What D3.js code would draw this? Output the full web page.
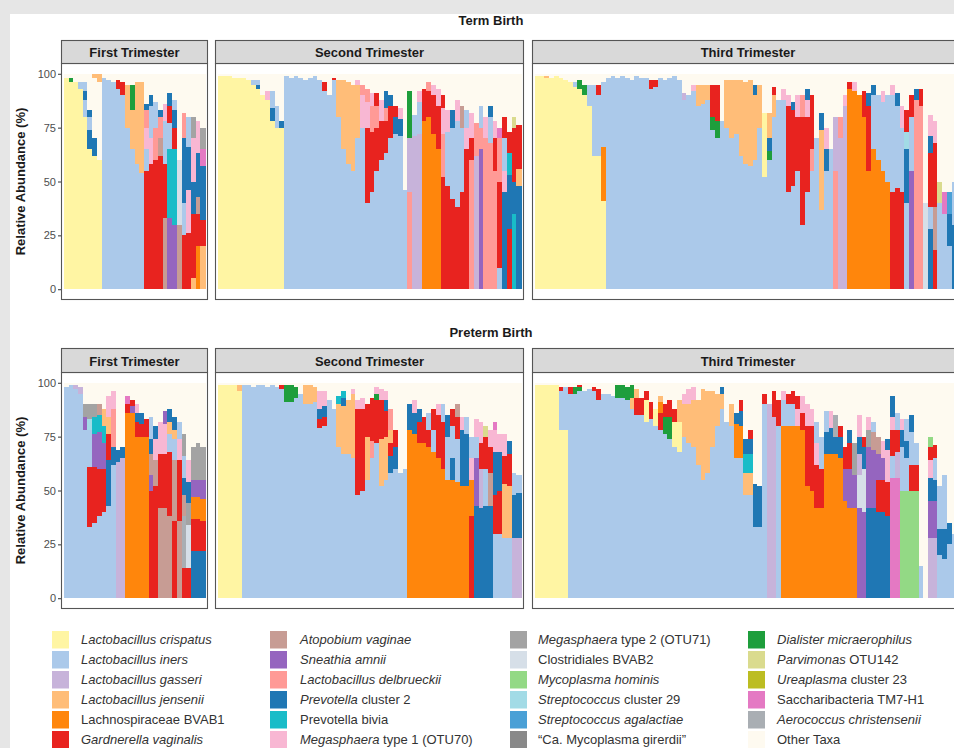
<!DOCTYPE html>
<html lang="en">
<head>
<meta charset="UTF-8">
<title>Vaginal microbiome composition by trimester</title>
<script src="https://d3js.org/d3.v7.min.js"></script>
<style>
  body { margin: 0; background: #e6e6e6; font-family: "Liberation Sans", Arial, sans-serif; }
  svg { display: block; }
</style>
</head>
<body>
<div id="chart"></div>
<script>
// taxa: code, legend label (*...* = italic), colour
const taxaCodes = "abcdefghijklmnopqrstuvwx".split("");
const taxaNames = [
  "*Lactobacillus crispatus*", "*Lactobacillus iners*", "*Lactobacillus gasseri*",
  "*Lactobacillus jensenii*", "Lachnospiraceae BVAB1", "*Gardnerella vaginalis*",
  "*Atopobium vaginae*", "*Sneathia amnii*", "*Lactobacillus delbrueckii*",
  "*Prevotella* cluster 2", "Prevotella bivia", "*Megasphaera* type 1 (OTU70)",
  "*Megasphaera* type 2 (OTU71)", "Clostridiales BVAB2", "*Mycoplasma hominis*",
  "*Streptococcus* cluster 29", "*Streptococcus agalactiae*", "\u201cCa. Mycoplasma girerdii\u201d",
  "*Dialister micraerophilus*", "*Parvimonas* OTU142", "*Ureaplasma* cluster 23",
  "Saccharibacteria TM7-H1", "*Aerococcus christensenii*", "Other Taxa"
];
const taxaColors = [
  "#fff5a3", "#abc9ea", "#c7b3da", "#ffbd78", "#ff860c", "#e8231f",
  "#c79c94", "#9565bf", "#ff9a96", "#1f77b4", "#19bcc8", "#f8b7d3",
  "#a3a3a3", "#d6dfe8", "#93d985", "#a2dbe6", "#4aa0d6", "#898989",
  "#1e9e3c", "#dadb8e", "#bcbd22", "#e479c3", "#a9aeb3", "#fefaf0"
];

const outcomes = ["Term Birth", "Preterm Birth"];
const trimesters = ["First Trimester", "Second Trimester", "Third Trimester"];
const yTicks = [0, 25, 50, 75, 100];

// one string per sample, segments bottom-up: taxon code + relative abundance (%)
const termFirst = [
  "a98 x2", "a96 s2 x2", "a96 x4", "a93 b3 x4", "a80 b8 j4 b4 x4", "a65 j9 b6 j3 x17",
  "a62 j8 x28 d2", "a60 x36 d4", "b98 x2", "b97 x3", "b96 x4", "b93 f4 x3", "b90 f6 x4",
  "b75 d20 x5", "b65 d18 s12 x5", "b58 d38 x4", "b54 d42 x4", "f55 b10 l10 i8 j3 x14",
  "f58 l12 b15 j5 x10", "f60 i15 b12 x13", "f62 g8 i10 j3 x17", "g33 f25 b20 l8 x14",
  "h33 k32 b12 f8 j6 x9", "h30 k35 f10 j8 b5 x12", "g30 n30 x40", "f25 b15 j30 i12 x18",
  "f26 l20 j20 b14 x20", "d5 f30 j15 l20 m10 x20", "e20 f15 g8 j20 l15 x22", "d20 f12 j25 v8 m10 x25"
];
const termSecond = [
  "a99 x1", "a99 x1", "a99 x1", "a98 x2", "a98 x2", "a98 x2", "a97 x3", "a95 b2 x3",
  "a93 j2 b2 x3", "a90 x10", "a88 l4 x8", "a78 j6 b8 x8", "a75 b10 x15", "a75 j3 x22",
  "b99 x1", "b98 x2", "b99 x1", "b98 x2", "b97 x3", "b98 x2", "b99 x1", "b97 x3",
  "b92 f4 x4", "b90 x10", "b97 f1 x2", "b80 d17 x3", "b65 d32 x3", "b58 d38 x4",
  "b55 d40 x5", "b70 d25 l2 x3", "b75 l15 i5 x5", "b40 f35 l12 i6 x7", "b45 f28 i12 l6 x9",
  "b55 f20 i10 f6 x9", "b60 f18 l10 x12", "b63 f15 i6 j8 x8", "b70 f15 j5 x10",
  "b72 j8 f5 x15", "b71 j8 l5 x16", "b46 x54", "i45 c25 s22 x8", "c71 b10 x19",
  "c72 b15 l5 x8", "e78 f15 x7", "e80 f12 i4 x4", "e72 f18 l5 x5", "e65 f20 l8 x7",
  "f52 i20 l12 f6 x10", "f48 b25 l10 x17", "f42 b33 j8 x17", "f38 b40 l10 x12",
  "f45 b30 g10 x15", "f65 l10 b8 x17", "i60 f10 l12 x18", "c62 i15 x23", "h65 i10 b10 x15",
  "i70 l10 x20", "i68 b12 j5 x15", "i55 f15 l8 x22", "b10 f40 i20 v5 x25",
  "j45 l10 b15 f10 x20", "f28 j25 k10 f10 x27", "k35 j15 f25 t5 x20", "j48 d8 f20 x24"
];
const termThird = [
  "a99 x1", "a99 x1", "a98 d1 x1", "a98 x2", "a99 x1", "a98 x2", "a97 x3", "a96 x4",
  "a94 b2 x4", "a93 s4 x3", "a90 s5 x5", "a85 b10 x5", "a62 b33 x5", "a62 b28 f5 x5",
  "a41 e25 b30 x4", "b98 x2", "b99 x1", "b98 x2", "b99 x1", "b98 x2", "b97 x3", "b99 x1",
  "b98 x2", "b98 x2", "b93 f4 x3", "b94 f3 x3", "b98 x2", "b97 x3", "b98 x2", "b99 x1",
  "b97 x3", "b88 c3 x9", "b90 x10", "b92 l3 x5", "b85 d10 x5", "b86 d9 x5", "b88 d7 x5",
  "b74 s6 f15 x5", "b70 s8 f17 x5", "b78 x22", "b75 d22 x3", "b70 d27 x3", "b72 d25 x3",
  "b62 d35 x3", "b58 d38 x4", "b57 d40 x3", "b60 d30 j5 x5", "b75 d20 x5", "b52 a30 x18",
  "b60 s4 j6 d12 x18", "b80 d10 f4 x6", "b88 x12", "b88 l5 x7", "b45 f40 l5 x10",
  "b48 f35 j4 x13", "b55 f25 l10 x10", "b30 f50 i10 x10", "b45 f35 l8 j5 x7",
  "b55 i10 f25 x10", "b70 x30", "b37 d37 j8 x18", "b55 j10 l10 x25", "b65 x35",
  "i55 c25 x20", "c70 i10 x20", "c85 l5 x10", "e93 f3 x4", "e92 l4 x4", "e90 x10",
  "e80 f12 x8", "e55 f30 j6 x9", "e65 b25 j5 x5", "e60 b30 x10", "e55 b32 l5 x8",
  "e50 b40 x10", "f45 b45 l5 x5", "f47 b38 j6 x9", "f45 b30 l10 x15", "b40 j25 p8 f10 x17",
  "h55 b25 f10 x10", "i88 j5 x7", "i85 f8 x7", "n40 x60", "j28 b10 f25 j8 l10 x19",
  "f18 g20 f30 l10 x22", "b40 t10 x50", "b35 v10 x55", "b20 j15 q10 x55", "j30 b20 x50", "b40 x60"
];
const pretermFirst = [
  "b98 x2", "b99 x1", "b97 c2 x1", "b95 c3 x2", "b78 h6 m6 x10", "b33 f28 b17 p5 m7 x10",
  "b35 f26 h15 k8 m6 x10", "b38 f22 h17 k8 g5 x10", "b40 f20 h12 k8 d8 x12",
  "b43 j21 f12 d8 l10 x6", "b62 j8 i18 l8 x4", "c63 j6 x31", "c65 j5 x30", "e86 f4 v4 x6",
  "e86 h3 f3 x8", "e75 f7 j4 l4 x10", "e75 f6 j5 x14", "e75 f8 x17", "f50 h7 g10 j7 b10 x16",
  "f52 g12 l10 j6 x20", "g42 f25 l15 x18", "g42 f25 l14 h6 x13", "g38 f30 b8 d6 j6 x12",
  "f36 g28 b10 d4 j6 x16", "g36 f28 l10 b8 x18", "f14 w24 g10 j8 b10 m10 x24",
  "f14 n20 m10 j10 l10 x36", "j22 f15 e10 h8 m15 x30", "j22 f15 e10 h8 m17 x28", "j22 f14 e10 h9 m15 x30"
];
const pretermSecond = [
  "a99 x1", "a99 x1", "a99 x1", "a99 x1", "a96 d3 x1", "b99 x1", "b99 x1", "b98 x2",
  "b99 x1", "b99 x1", "b98 x2", "b99 x1", "b98 x2", "b97 f2 x1", "b91 s8 x1", "b91 s8 x1",
  "b93 s5 x2", "b95 x5", "b90 d9 x1", "b90 d9 x1", "b91 d7 x2", "b79 f4 j5 l8 x4",
  "b80 f4 j5 l7 x4", "b92 x8", "b88 x12", "b70 d20 k4 x6", "b67 d22 j4 k3 x4", "b67 d25 x8",
  "b65 d30 l2 x3", "b48 f40 l4 x8", "b50 f38 l5 x7", "b55 d20 f15 x10", "b65 i8 f20 x7",
  "b72 f20 s3 l3 x2", "b52 d22 f18 l5 x3", "b55 d20 f12 j5 l4 x4", "b58 j8 f6 d6 i10 x12",
  "b60 j10 f8 x22", "b58 x42", "b60 x40", "e78 j12 x10", "e76 j10 l6 x8", "e72 f10 j6 x12",
  "e72 f12 x16", "e70 f8 b8 x14", "e68 b10 f10 x12", "e65 f20 l5 x10", "e60 f22 b8 x10",
  "e55 b20 j10 x15", "e55 j10 b15 f8 x12", "e54 b20 f10 g6 x10", "e52 j26 l6 x16",
  "e52 j24 b8 x16", "f38 e17 l10 b10 x25", "j43 h22 b10 l8 x17", "j42 c18 f12 l10 x18",
  "j43 b17 f15 t5 x20", "j43 g15 f12 l8 x22", "b30 f18 j20 l10 v4 x18", "b30 f20 j18 l8 x24",
  "b28 d25 f13 l10 x24", "b28 d24 f15 j6 x27", "c28 j20 b10 x42", "c28 j21 b8 x43"
];
const pretermThird = [
  "a99 x1", "a99 x1", "a99 x1", "a99 x1", "a99 x1", "a78 b18 f2 x2", "a78 b20 x2",
  "b95 f3 x2", "b95 s3 x2", "b96 s2 f1 x1", "b96 x4", "b97 x3", "b96 f2 x2", "b92 f5 x3",
  "b95 x5", "b95 x5", "b94 x6", "b93 s6 x1", "b93 s6 x1", "b92 s6 x2", "b88 d5 s6 x1",
  "b85 f8 d4 x3", "b85 f8 x7", "b82 a10 f4 x4", "b83 f8 x9", "b80 a8 x12", "b78 f8 e5 d3 x6",
  "b76 s8 f6 x10", "b74 s10 f8 x8", "b70 a12 f6 x12", "b68 a14 d10 x8", "b75 d15 l5 x5",
  "b72 d18 l7 x3", "b70 d22 l6 x2", "b62 d30 x8", "b55 d42 x3", "b58 d38 x4", "b70 d26 x4",
  "b80 d15 x5", "b88 d7 j3 x2", "b82 x18", "b80 d10 x10", "b65 e16 j5 x14", "b65 e15 j7 f5 x8",
  "b48 d10 k9 j7 x26", "b48 d10 k9 j7 f4 x22", "b33 j20 x47", "b33 j19 x48", "b90 f5 x5",
  "c90 x10", "c84 f12 x4", "b80 f12 x8", "e80 b12 l4 x4", "e80 b10 f5 x5", "e80 b10 f6 x4",
  "e80 l8 f6 x6", "e78 f8 l8 x6", "e52 f28 l10 x10", "e50 f30 l8 x12", "e42 f20 l10 b10 x18",
  "e42 f18 b15 x25", "e67 j10 b10 x13", "e67 j12 l8 x13", "e67 j8 w10 x15", "e65 j10 f5 x20",
  "e45 h15 f10 x30", "e42 h18 f12 j6 x22", "e42 h15 m15 x28", "h42 n15 c10 j8 l10 x15",
  "h40 n20 j10 f5 x25", "j42 h28 m8 l6 x16", "j42 h27 g8 b5 x18", "j40 f15 h12 g8 x25",
  "j40 f15 h10 l8 x27", "j38 f16 l15 j5 x26", "v56 b10 f12 l6 j10 x6", "v56 c12 f10 b8 x14",
  "o50 b20 j8 l5 x17", "o50 b15 j8 b10 x17", "o50 f12 b15 j8 x15", "o50 f12 b10 x28",
  "b15 x85", "x100", "c28 h17 j11 l8 f6 o5 x25", "c28 h17 j10 b10 f6 x29",
  "b20 j12 b20 x48", "b18 j14 b25 x43", "b25 j10 x65", "b30 x70", "b40 x60"
];

const panelData = [
  [termFirst, termSecond, termThird],
  [pretermFirst, pretermSecond, pretermThird]
];

// layout
const W = 954, H = 748;
const colX = [[61, 208], [215, 524], [532, 964]];
const rowY = [
  {title: 25, strip: 40, top: 63, bottom: 300},
  {title: 337, strip: 348, top: 372, bottom: 609}
];

const color = d3.scaleOrdinal().domain(taxaCodes).range(taxaColors);

function parseSample(s) {
  const segs = s.split(" ").map(t => ({code: t[0], v: +t.slice(1)}));
  const total = d3.sum(segs, d => d.v);
  let cum = 0;
  segs.forEach(d => {
    d.y0 = cum / total * 100;
    cum += d.v;
    d.y1 = cum / total * 100;
  });
  return segs;
}

const svg = d3.select("#chart").append("svg")
  .attr("width", W)
  .attr("height", H);

// figure area (white) inside the grey frame
svg.append("rect")
  .attr("x", 10).attr("y", 14)
  .attr("width", W).attr("height", H)
  .attr("fill", "#ffffff");

rowY.forEach((row, r) => {
  const y = d3.scaleLinear().domain([-5, 105]).range([row.bottom, row.top]);

  svg.append("text")
    .attr("x", 491)
    .attr("y", row.title)
    .attr("text-anchor", "middle")
    .attr("font-size", 13)
    .attr("font-weight", "bold")
    .attr("fill", "#1a1a1a")
    .text(outcomes[r]);

  svg.append("text")
    .attr("transform", `translate(25,${(y(0) + y(100)) / 2}) rotate(-90)`)
    .attr("text-anchor", "middle")
    .attr("font-size", 13)
    .attr("font-weight", "bold")
    .attr("fill", "#1a1a1a")
    .text("Relative Abundance (%)");

  colX.forEach(([x0, x1], c) => {
    const samples = panelData[r][c].map(parseSample);
    const x = d3.scaleBand()
      .domain(d3.range(samples.length))
      .range([x0, x1])
      .paddingInner(0)
      .paddingOuter(0.6);

    const g = svg.append("g");

    g.append("rect")
      .attr("x", x0).attr("y", row.top)
      .attr("width", x1 - x0).attr("height", row.bottom - row.top)
      .attr("fill", "#ffffff");

    const bars = g.selectAll("g.sample")
      .data(samples)
      .join("g")
      .attr("class", "sample")
      .attr("transform", (d, i) => `translate(${x(i)},0)`);

    bars.selectAll("rect")
      .data(d => d)
      .join("rect")
      .attr("x", 0)
      .attr("width", x.bandwidth() + 0.4)
      .attr("y", d => y(d.y1))
      .attr("height", d => y(d.y0) - y(d.y1))
      .attr("fill", d => color(d.code))
      .attr("shape-rendering", "crispEdges");

    // panel border
    g.append("rect")
      .attr("x", x0 + 0.5).attr("y", row.top + 0.5)
      .attr("width", x1 - x0 - 1).attr("height", row.bottom - row.top - 1)
      .attr("fill", "none")
      .attr("stroke", "#555555")
      .attr("stroke-width", 1.1);

    // strip
    g.append("rect")
      .attr("x", x0 + 0.5).attr("y", row.strip + 0.5)
      .attr("width", x1 - x0 - 1).attr("height", row.top - row.strip)
      .attr("fill", "#d9d9d9")
      .attr("stroke", "#555555")
      .attr("stroke-width", 1.1);

    g.append("text")
      .attr("x", (x0 + Math.min(x1, W + 10)) / 2)
      .attr("y", (row.strip + row.top) / 2 + 1)
      .attr("dy", "0.35em")
      .attr("text-anchor", "middle")
      .attr("font-size", 13)
      .attr("font-weight", "bold")
      .attr("fill", "#1a1a1a")
      .text(trimesters[c]);

    if (c === 0) {
      const axis = g.append("g")
        .attr("transform", `translate(${x0},0)`)
        .call(d3.axisLeft(y).tickValues(yTicks).tickSize(3).tickPadding(2));
      axis.select(".domain").remove();
      axis.selectAll(".tick line").attr("stroke", "#333333");
      axis.selectAll(".tick text")
        .attr("font-family", "'Liberation Sans', Arial, sans-serif")
        .attr("font-size", 11)
        .attr("fill", "#4d4d4d");
    }
  });
});

// legend
const legendSwatchX = [52, 270, 510, 748];
const legendTextX = [81, 300, 538, 777];
const legendTop = 631;
const legendStep = 20;

const legend = svg.append("g");
taxaNames.forEach((name, i) => {
  const col = Math.floor(i / 6), row = i % 6;
  const cy = legendTop + row * legendStep + 8.5;
  legend.append("rect")
    .attr("x", legendSwatchX[col])
    .attr("y", legendTop + row * legendStep)
    .attr("width", 17)
    .attr("height", 17.5)
    .attr("fill", taxaColors[i]);
  const t = legend.append("text")
    .attr("x", legendTextX[col])
    .attr("y", cy)
    .attr("dy", "0.36em")
    .attr("font-size", 13)
    .attr("fill", "#333333");
  name.split("*").forEach((part, k) => {
    if (part === "") return;
    t.append("tspan")
      .attr("font-style", k % 2 === 1 ? "italic" : "normal")
      .text(part);
  });
});
</script>
</body>
</html>
